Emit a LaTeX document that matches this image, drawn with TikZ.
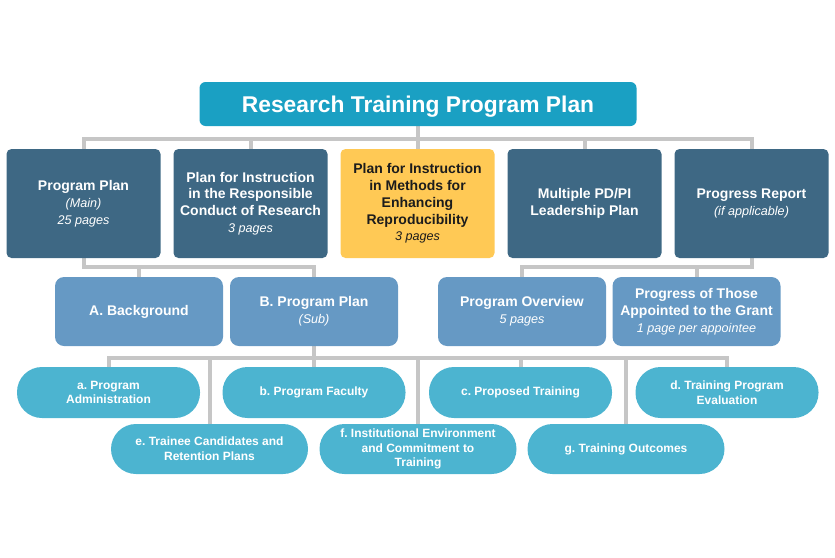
\documentclass[tikz,border=0pt]{standalone}
\usepackage{fontspec}
\setmainfont{Liberation Sans}
\usetikzlibrary{backgrounds}
\frenchspacing
\definecolor{titleblue}{HTML}{1AA0C3}
\definecolor{darkblue}{HTML}{3E6884}
\definecolor{midblue}{HTML}{6699C4}
\definecolor{pillblue}{HTML}{4CB4D0}
\definecolor{goldbox}{HTML}{FFC955}
\definecolor{linegray}{HTML}{C6C6C6}
\definecolor{darktext}{HTML}{1C1C1C}
\newcommand\pgsnote[1]{{\mdseries\itshape\fontsize{12.6}{15.5}\selectfont #1}}
\begin{document}
\begin{tikzpicture}[x=1pt,y=-1pt,
  titlebox/.style={rectangle, rounded corners=6pt, fill=titleblue, text=white, inner sep=0pt,
    minimum width=437pt, minimum height=44pt, text depth=0pt, font=\fontsize{22.8}{27}\selectfont\bfseries},
  topbox/.style={rectangle, rounded corners=5pt, fill=darkblue, text=white, align=center, inner sep=0pt,
    minimum width=154pt, minimum height=109pt, font=\fontsize{14}{16.8}\selectfont\bfseries},
  midbox/.style={rectangle, rounded corners=9pt, fill=midblue, text=white, align=center, inner sep=0pt,
    minimum width=168pt, minimum height=69pt, font=\fontsize{14}{16.8}\selectfont\bfseries},
  pill/.style={rectangle, rounded corners=25pt, fill=pillblue, text=white, align=center, inner sep=0pt,
    minimum width=#1, minimum height=50pt, font=\fontsize{12}{14.8}\selectfont\bfseries},
  pill/.default=183pt,
  conn/.style={draw=linegray, line width=4pt, line join=miter}
]
\useasboundingbox (0,0) rectangle (835,557);

\node[titlebox] (title) at (418,104) {Research Training Program Plan};

\node[topbox] (p1) at (83.5,203.5) {Program Plan\\\pgsnote{(Main)}\\\pgsnote{25 pages}};
\node[topbox] (p2) at (250.5,203.5) {Plan for Instruction\\in the Responsible\\Conduct of Research\\\pgsnote{3 pages}};
\node[topbox, fill=goldbox, text=darktext] (p3) at (417.5,203.5) {Plan for Instruction\\in Methods for\\Enhancing\\Reproducibility\\\pgsnote{3 pages}};
\node[topbox] (p4) at (584.5,203.5) {Multiple PD/PI\\Leadership Plan};
\node[topbox] (p5) at (751.5,203.5) {Progress Report\\\pgsnote{(if applicable)}};

\node[midbox] (A) at (139,311.5) {A. Background};
\node[midbox] (B) at (314,311.5) {B. Program Plan\\\pgsnote{(Sub)}};
\node[midbox] (PO) at (522,311.5) {Program Overview\\\pgsnote{5 pages}};
\node[midbox] (PG) at (696.5,311.5) {Progress of Those\\Appointed to the Grant\\\pgsnote{1 page per appointee}};

\node[pill, minimum height=51pt] (a) at (108.5,392.5) {a. Program\\Administration};
\node[pill, minimum height=51pt] (b) at (314,392.5) {b. Program Faculty};
\node[pill, minimum height=51pt] (c) at (520.5,392.5) {c. Proposed Training};
\node[pill, minimum height=51pt] (d) at (727,392.5) {d. Training Program\\Evaluation};
\node[pill=197pt] (e) at (209.5,449) {e. Trainee Candidates and\\Retention Plans};
\node[pill=197pt] (f) at (418,449) {f. Institutional Environment\\and Commitment to\\Training};
\node[pill=197pt] (g) at (626,449) {g. Training Outcomes};

\coordinate (bar1) at (0,139);
\coordinate (bar2) at (0,267);
\coordinate (bar3) at (0,358);

\begin{scope}[on background layer]
  \draw[conn] (title.south) -- (title.south |- bar1);
  \draw[conn] (p1.north) |- (p5.north |- bar1) -- (p5.north);
  \draw[conn] (p2.north) -- (p2.north |- bar1);
  \draw[conn] (p3.north) -- (p3.north |- bar1);
  \draw[conn] (p4.north) -- (p4.north |- bar1);

  \draw[conn] (p1.south) |- (B.north |- bar2) -- (B.north);
  \draw[conn] (A.north) -- (A.north |- bar2);
  \draw[conn] (p5.south) |- (PO.north |- bar2) -- (PO.north);
  \draw[conn] (PG.north) -- (PG.north |- bar2);

  \draw[conn] (B.south) -- (B.south |- bar3);
  \draw[conn] (a.north) |- (d.north |- bar3) -- (d.north);
  \draw[conn] (b.north) -- (b.north |- bar3);
  \draw[conn] (c.north) -- (c.north |- bar3);
  \draw[conn] (e.north) -- (e.north |- bar3);
  \draw[conn] (f.north) -- (f.north |- bar3);
  \draw[conn] (g.north) -- (g.north |- bar3);
\end{scope}
\end{tikzpicture}
\end{document}
